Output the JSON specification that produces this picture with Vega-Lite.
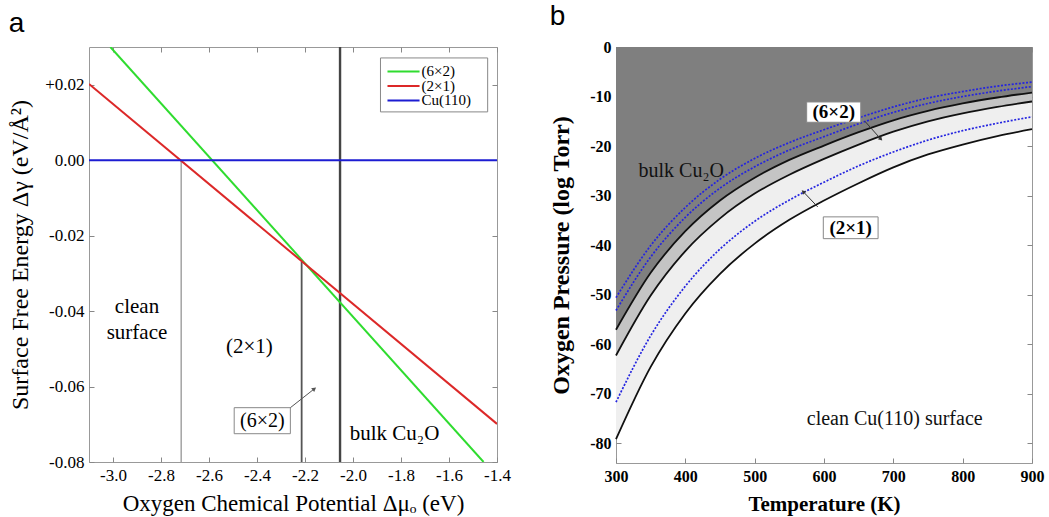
{
  "$schema": "https://vega.github.io/schema/vega-lite/v6.json",
  "padding": {"left": 8, "top": 2, "right": 0, "bottom": 0},
  "config": {"view": {"stroke": "#999", "strokeWidth": 1}, "font": "Liberation Serif"},
  "datasets": {
    "alines": [
      {"phase": "(6×2)", "mu": -3.011, "dg": 0.03},
      {"phase": "(6×2)", "mu": -1.456, "dg": -0.08},
      {"phase": "(2×1)", "mu": -3.1, "dg": 0.0202},
      {"phase": "(2×1)", "mu": -1.4, "dg": -0.0699},
      {"phase": "Cu(110)", "mu": -3.1, "dg": 0},
      {"phase": "Cu(110)", "mu": -1.4, "dg": 0}
    ],
    "alegend": [
      {"phase": "(6×2)", "mu": -1.8563, "mu2": -1.7227, "lmu": -1.7144, "dg": 0.02351},
      {"phase": "(2×1)", "mu": -1.8563, "mu2": -1.7227, "lmu": -1.7144, "dg": 0.01967},
      {"phase": "Cu(110)", "mu": -1.8563, "mu2": -1.7227, "lmu": -1.7144, "dg": 0.01583}
    ],
    "alegendbox": [
      {"mu": -1.8855, "mu2": -1.4389, "dg": 0.0271, "dg2": 0.0128}
    ],
    "arules": [
      {"boundary": "clean/2x1", "mu": -2.716, "top": 0, "bottom": -0.08},
      {"boundary": "2x1/6x2", "mu": -2.214, "top": -0.0269, "bottom": -0.08},
      {"boundary": "bulk", "mu": -2.054, "top": 0.03, "bottom": -0.08}
    ],
    "atext": [
      {"mu": -2.9, "dg": -0.0389, "label": "clean"},
      {"mu": -2.9, "dg": -0.0458, "label": "surface"},
      {"mu": -2.432, "dg": -0.0495, "label": "(2×1)"},
      {"mu": -1.827, "dg": -0.0725, "label": "bulk Cu₂O"}
    ],
    "abox": [
      {"mu": -2.495, "mu2": -2.261, "dg": -0.0656, "dg2": -0.0725, "label": "(6×2)", "cmu": -2.378, "cdg": -0.0691}
    ],
    "aarrow": [
      {"mu": -2.261, "dg": -0.0656, "mu2": -2.161, "dg2": -0.0606, "angle": 52}
    ],
    "bcurves": [
      {"T": 300, "b1": -50.6, "b2": -53.2, "k1": -57.1, "k2": -62.3, "b3": -71.7, "k3": -79.2},
      {"T": 350, "b1": -40.1, "b2": -42.4, "k1": -45.6, "k2": -50.2, "b3": -58.3, "k3": -64.6},
      {"T": 400, "b1": -32.4, "b2": -34.4, "k1": -37.2, "k2": -41.2, "b3": -48.3, "k3": -53.8},
      {"T": 450, "b1": -26.7, "b2": -28.5, "k1": -31.0, "k2": -34.6, "b3": -40.8, "k3": -45.8},
      {"T": 500, "b1": -22.5, "b2": -24.2, "k1": -26.4, "k2": -29.6, "b3": -35.2, "k3": -39.7},
      {"T": 550, "b1": -19.3, "b2": -20.8, "k1": -22.8, "k2": -25.8, "b3": -30.9, "k3": -34.9},
      {"T": 600, "b1": -16.7, "b2": -18.1, "k1": -19.9, "k2": -22.6, "b3": -27.3, "k3": -31.0},
      {"T": 650, "b1": -14.3, "b2": -15.5, "k1": -17.2, "k2": -19.7, "b3": -24.0, "k3": -27.5},
      {"T": 700, "b1": -12.1, "b2": -13.2, "k1": -14.8, "k2": -17.1, "b3": -21.2, "k3": -24.3},
      {"T": 750, "b1": -10.3, "b2": -11.4, "k1": -12.9, "k2": -15.0, "b3": -18.8, "k3": -21.7},
      {"T": 800, "b1": -9.0, "b2": -10.0, "k1": -11.4, "k2": -13.4, "b3": -16.9, "k3": -19.7},
      {"T": 850, "b1": -7.9, "b2": -8.9, "k1": -10.2, "k2": -12.1, "b3": -15.4, "k3": -18.0},
      {"T": 900, "b1": -7.1, "b2": -8.0, "k1": -9.2, "k2": -11.0, "b3": -14.1, "k3": -16.6}
    ],
    "btext": [
      {"T": 394, "p": -25.0, "label": "bulk Cu₂O"},
      {"T": 702, "p": -75.1, "label": "clean Cu(110) surface"}
    ],
    "bbox": [
      {"T": 575, "T2": 653, "p": -11.1, "p2": -15.2, "cT": 614, "cp": -13.1, "label": "(6×2)"},
      {"T": 599, "T2": 678, "p": -34.3, "p2": -38.7, "cT": 638.5, "cp": -36.5, "label": "(2×1)"}
    ],
    "barrow": [
      {"T": 659, "p": -15.0, "T2": 682, "p2": -18.6, "angle": 138},
      {"T": 591, "p": -32.3, "T2": 570, "p2": -29.2, "angle": 315}
    ]
  },
  "hconcat": [
    {
      "width": 408,
      "height": 415,
      "title": {"text": "a", "anchor": "start", "frame": "bounds", "font": "Liberation Sans", "fontSize": 28, "fontWeight": "normal", "color": "#000", "offset": 8},
      "resolve": {"axis": {"x": "independent", "y": "independent"}, "scale": {"color": "independent", "strokeWidth": "independent"}},
      "layer": [
        {
          "data": {"name": "arules"},
          "mark": {"type": "rule"},
          "encoding": {
            "x": {"field": "mu", "type": "quantitative", "scale": {"domain": [-3.1, -1.4], "nice": false, "zero": false},
              "axis": {"orient": "top", "values": [-3.0, -2.8, -2.6, -2.4, -2.2, -2.0, -1.8, -1.6, -1.4], "labels": false, "title": null, "domain": false, "grid": false, "tickSize": -5, "tickColor": "#888"}},
            "y": {"field": "top", "type": "quantitative", "scale": {"domain": [-0.08, 0.03], "nice": false, "zero": false},
              "axis": {"orient": "right", "values": [-0.08, -0.06, -0.04, -0.02, 0, 0.02], "labels": false, "title": null, "domain": false, "grid": false, "tickSize": -5, "tickColor": "#888"}},
            "y2": {"field": "bottom"},
            "color": {"field": "boundary", "type": "nominal", "legend": null, "scale": {"domain": ["clean/2x1", "2x1/6x2", "bulk"], "range": ["#8c8c8c", "#555555", "#444444"]}},
            "strokeWidth": {"field": "boundary", "type": "nominal", "legend": null, "scale": {"domain": ["clean/2x1", "2x1/6x2", "bulk"], "range": [1.2, 2.4, 1.5]}}
          }
        },
        {
          "data": {"name": "alines"},
          "mark": {"type": "line", "strokeWidth": 2, "clip": true},
          "encoding": {
            "x": {"field": "mu", "type": "quantitative",
              "axis": {"orient": "bottom", "values": [-3.0, -2.8, -2.6, -2.4, -2.2, -2.0, -1.8, -1.6, -1.4], "labelExpr": "replace(format(datum.value, '.1f'), '\u2212', '-')", "domain": false, "grid": false, "tickSize": -5, "tickColor": "#888", "labelPadding": 10, "labelFont": "Liberation Serif", "labelFontSize": 17, "labelColor": "#000", "labelFlush": false, "title": "Oxygen Chemical Potential Δμₒ (eV)", "titleFont": "Liberation Serif", "titleFontSize": 23, "titleFontWeight": "normal", "titleColor": "#000", "titlePadding": 9}},
            "y": {"field": "dg", "type": "quantitative",
              "axis": {"orient": "left", "values": [-0.08, -0.06, -0.04, -0.02, 0, 0.02], "labelExpr": "datum.value > 0.001 ? '+' + format(datum.value, '.2f') : replace(format(datum.value, '.2f'), '\u2212', '-')", "domain": false, "grid": false, "tickSize": -5, "tickColor": "#888", "labelPadding": 10, "labelFont": "Liberation Serif", "labelFontSize": 17, "labelColor": "#000", "title": "Surface Free Energy Δγ (eV/Å²)", "titleFont": "Liberation Serif", "titleFontSize": 24, "titleFontWeight": "normal", "titleColor": "#000", "titlePadding": 12}},
            "color": {"field": "phase", "type": "nominal", "legend": null,
              "scale": {"domain": ["(6×2)", "(2×1)", "Cu(110)"], "range": ["#2fdc2f", "#dc2828", "#1c1cd2"]}},
            "detail": {"field": "phase"}
          }
        },
        {
          "data": {"name": "alegendbox"},
          "mark": {"type": "rect", "fill": "#fff", "stroke": "#888", "strokeWidth": 1},
          "encoding": {
            "x": {"field": "mu", "type": "quantitative", "axis": null},
            "x2": {"field": "mu2"},
            "y": {"field": "dg", "type": "quantitative", "axis": null},
            "y2": {"field": "dg2"}
          }
        },
        {
          "data": {"name": "alegend"},
          "mark": {"type": "rule", "strokeWidth": 2},
          "encoding": {
            "x": {"field": "mu", "type": "quantitative", "axis": null},
            "x2": {"field": "mu2"},
            "y": {"field": "dg", "type": "quantitative", "axis": null},
            "color": {"field": "phase", "type": "nominal", "legend": null,
              "scale": {"domain": ["(6×2)", "(2×1)", "Cu(110)"], "range": ["#2fdc2f", "#dc2828", "#1c1cd2"]}}
          }
        },
        {
          "data": {"name": "alegend"},
          "mark": {"type": "text", "font": "Liberation Serif", "fontSize": 15, "color": "#000", "align": "left", "baseline": "middle"},
          "encoding": {
            "x": {"field": "lmu", "type": "quantitative", "axis": null},
            "y": {"field": "dg", "type": "quantitative", "axis": null},
            "text": {"field": "phase"}
          }
        },
        {
          "data": {"name": "atext"},
          "mark": {"type": "text", "font": "Liberation Serif", "fontSize": 21, "color": "#000", "align": "center", "baseline": "middle"},
          "encoding": {
            "x": {"field": "mu", "type": "quantitative", "axis": null},
            "y": {"field": "dg", "type": "quantitative", "axis": null},
            "text": {"field": "label"}
          }
        },
        {
          "data": {"name": "abox"},
          "mark": {"type": "rect", "fill": "#fff", "stroke": "#888", "strokeWidth": 1},
          "encoding": {
            "x": {"field": "mu", "type": "quantitative", "axis": null},
            "x2": {"field": "mu2"},
            "y": {"field": "dg", "type": "quantitative", "axis": null},
            "y2": {"field": "dg2"}
          }
        },
        {
          "data": {"name": "abox"},
          "mark": {"type": "text", "font": "Liberation Serif", "fontSize": 20, "color": "#000", "align": "center", "baseline": "middle"},
          "encoding": {
            "x": {"field": "cmu", "type": "quantitative", "axis": null},
            "y": {"field": "cdg", "type": "quantitative", "axis": null},
            "text": {"field": "label"}
          }
        },
        {
          "data": {"name": "aarrow"},
          "mark": {"type": "rule", "color": "#555", "strokeWidth": 1},
          "encoding": {
            "x": {"field": "mu", "type": "quantitative", "axis": null},
            "y": {"field": "dg", "type": "quantitative", "axis": null},
            "x2": {"field": "mu2"},
            "y2": {"field": "dg2"}
          }
        },
        {
          "data": {"name": "aarrow"},
          "mark": {"type": "point", "shape": "triangle-up", "filled": true, "color": "#555", "size": 25, "opacity": 1},
          "encoding": {
            "x": {"field": "mu2", "type": "quantitative", "axis": null},
            "y": {"field": "dg2", "type": "quantitative", "axis": null},
            "angle": {"field": "angle", "type": "quantitative", "scale": null}
          }
        }
      ]
    },
    {
      "width": 416,
      "height": 416,
      "title": {"text": "b", "anchor": "start", "frame": "bounds", "font": "Liberation Sans", "fontSize": 28, "fontWeight": "normal", "color": "#000", "offset": 8},
      "resolve": {"axis": {"x": "independent", "y": "independent"}},
      "layer": [
        {
          "data": {"name": "bcurves"},
          "mark": {"type": "area", "color": "#7f7f7f", "opacity": 1, "interpolate": "monotone"},
          "encoding": {
            "x": {"field": "T", "type": "quantitative", "scale": {"domain": [300, 900], "nice": false, "zero": false},
              "axis": {"orient": "bottom", "values": [300, 400, 500, 600, 700, 800, 900], "domain": false, "grid": false, "tickSize": -5, "tickColor": "#888", "labelPadding": 10, "labelFont": "Liberation Serif", "labelFontSize": 16, "labelFontWeight": "bold", "labelColor": "#000", "labelFlush": false, "title": "Temperature (K)", "titleFont": "Liberation Serif", "titleFontSize": 21, "titleFontWeight": "bold", "titleColor": "#000", "titlePadding": 9}},
            "y": {"field": "k1", "type": "quantitative", "scale": {"domain": [-84, 0], "nice": false, "zero": false},
              "axis": {"orient": "left", "values": [0, -10, -20, -30, -40, -50, -60, -70, -80], "labelExpr": "replace(format(datum.value, 'd'), '\u2212', '-')", "domain": false, "grid": false, "tickSize": -5, "tickColor": "#888", "labelPadding": 10, "labelFont": "Liberation Serif", "labelFontSize": 16, "labelFontWeight": "bold", "labelColor": "#000", "title": "Oxygen Pressure (log Torr)", "titleFont": "Liberation Serif", "titleFontSize": 24, "titleFontWeight": "bold", "titleColor": "#000", "titlePadding": 16}},
            "y2": {"datum": 0}
          }
        },
        {
          "data": {"name": "bcurves"},
          "mark": {"type": "area", "color": "#c4c4c4", "opacity": 1, "interpolate": "monotone"},
          "encoding": {
            "x": {"field": "T", "type": "quantitative", "axis": null},
            "y": {"field": "k1", "type": "quantitative", "axis": null},
            "y2": {"field": "k2"}
          }
        },
        {
          "data": {"name": "bcurves"},
          "mark": {"type": "area", "color": "#efefef", "opacity": 1, "interpolate": "monotone"},
          "encoding": {
            "x": {"field": "T", "type": "quantitative", "axis": null},
            "y": {"field": "k2", "type": "quantitative", "axis": null},
            "y2": {"field": "k3"}
          }
        },
        {
          "data": {"name": "bcurves"},
          "transform": [{"fold": ["k1", "k2", "k3"], "as": ["curve", "logP"]}],
          "mark": {"type": "line", "color": "#111", "strokeWidth": 1.8, "interpolate": "monotone"},
          "encoding": {
            "x": {"field": "T", "type": "quantitative",
              "axis": {"orient": "top", "values": [300, 400, 500, 600, 700, 800, 900], "labels": false, "title": null, "domain": false, "grid": false, "tickSize": -5, "tickColor": "#888"}},
            "y": {"field": "logP", "type": "quantitative",
              "axis": {"orient": "right", "values": [0, -10, -20, -30, -40, -50, -60, -70, -80], "labels": false, "title": null, "domain": false, "grid": false, "tickSize": -5, "tickColor": "#888"}},
            "detail": {"field": "curve"}
          }
        },
        {
          "data": {"name": "bcurves"},
          "transform": [{"fold": ["b1", "b2", "b3"], "as": ["curve", "logP"]}],
          "mark": {"type": "line", "color": "#2424e0", "strokeWidth": 1.7, "strokeDash": [2, 1.6], "interpolate": "monotone"},
          "encoding": {
            "x": {"field": "T", "type": "quantitative", "axis": null},
            "y": {"field": "logP", "type": "quantitative", "axis": null},
            "detail": {"field": "curve"}
          }
        },
        {
          "data": {"name": "barrow"},
          "mark": {"type": "rule", "color": "#333", "strokeWidth": 1},
          "encoding": {
            "x": {"field": "T", "type": "quantitative", "axis": null},
            "y": {"field": "p", "type": "quantitative", "axis": null},
            "x2": {"field": "T2"},
            "y2": {"field": "p2"}
          }
        },
        {
          "data": {"name": "barrow"},
          "mark": {"type": "point", "shape": "triangle-up", "filled": true, "color": "#333", "size": 22, "opacity": 1},
          "encoding": {
            "x": {"field": "T2", "type": "quantitative", "axis": null},
            "y": {"field": "p2", "type": "quantitative", "axis": null},
            "angle": {"field": "angle", "type": "quantitative", "scale": null}
          }
        },
        {
          "data": {"name": "bbox"},
          "mark": {"type": "rect", "fill": "#fff", "stroke": "#888", "strokeWidth": 1},
          "encoding": {
            "x": {"field": "T", "type": "quantitative", "axis": null},
            "x2": {"field": "T2"},
            "y": {"field": "p", "type": "quantitative", "axis": null},
            "y2": {"field": "p2"}
          }
        },
        {
          "data": {"name": "bbox"},
          "mark": {"type": "text", "font": "Liberation Serif", "fontSize": 19, "fontWeight": "bold", "color": "#000", "align": "center", "baseline": "middle"},
          "encoding": {
            "x": {"field": "cT", "type": "quantitative", "axis": null},
            "y": {"field": "cp", "type": "quantitative", "axis": null},
            "text": {"field": "label"}
          }
        },
        {
          "data": {"name": "btext"},
          "mark": {"type": "text", "font": "Liberation Serif", "fontSize": 20, "color": "#111", "align": "center", "baseline": "middle"},
          "encoding": {
            "x": {"field": "T", "type": "quantitative", "axis": null},
            "y": {"field": "p", "type": "quantitative", "axis": null},
            "text": {"field": "label"}
          }
        }
      ]
    }
  ],
  "spacing": 38
}
